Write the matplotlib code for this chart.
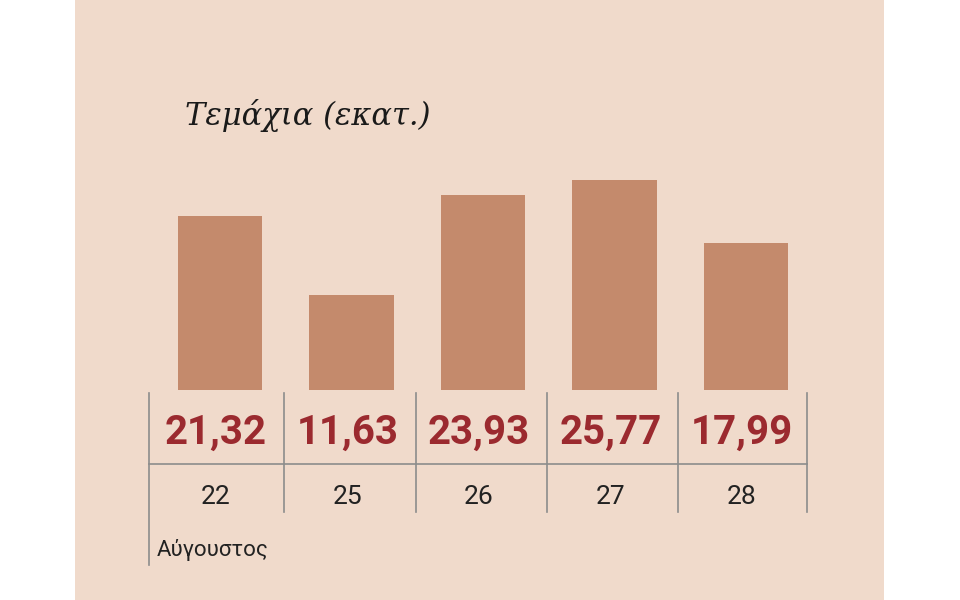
import matplotlib
matplotlib.use("Agg")
import matplotlib.pyplot as plt
import matplotlib.transforms as mt
from matplotlib.patches import Rectangle

days = ["22", "25", "26", "27", "28"]
values = [21.32, 11.63, 23.93, 25.77, 17.99]
labels = ["21,32", "11,63", "23,93", "25,77", "17,99"]
title = "Τεμάχια (εκατ.)"
month = "Αύγουστος"

bg = "#f0dacb"; barc = "#c48a6c"; red = "#9b2a2f"; grid = "#8c8c8c"
W, H = 960, 600
fig = plt.figure(figsize=(9.6, 6), dpi=100)
fig.patch.set_facecolor("white")
bgax = fig.add_axes([0, 0, 1, 1], zorder=-10)
bgax.axis("off")
bgax.add_patch(Rectangle((75/W, 0), (884-75)/W, 1, transform=bgax.transAxes,
                         facecolor=bg, edgecolor="none"))
ax = fig.add_axes([149/W, 1-390/H, 658/W, 240/H], zorder=1)
ax.set_facecolor("none")
x = list(range(len(days)))
ax.bar(x, values, width=0.64, color=barc)
ax.set_xlim(-0.54, 4.464)
ax.set_ylim(0, 240/8.15)
ax.axis("off")

tr = mt.blended_transform_factory(ax.transData, fig.transFigure)
def fy(p): return 1 - p/H
bounds = [-0.54, 0.487, 1.49, 2.49, 3.48, 4.464]
for i, b in enumerate(bounds):
    y0 = fy(565) if i == 0 else fy(512)
    ax.plot([b, b], [fy(393), y0], transform=tr, color=grid, lw=1.2, clip_on=False)
ax.plot([bounds[0], bounds[-1]], [fy(464), fy(464)], transform=tr, color=grid, lw=1.2, clip_on=False)
for xi, lab, d in zip(x, labels, days):
    ax.text(xi - 0.03, fy(433), lab, transform=tr, ha="center", va="center",
            fontsize=29, fontweight="bold", color=red, family="Roboto")
    ax.text(xi - 0.03, fy(497), d, transform=tr, ha="center", va="center",
            fontsize=19, color="#222222", family="Roboto")
fig.text(157/W, fy(550), month, ha="left", va="center", fontsize=16, color="#222222", family="Roboto")
fig.text(185/W, fy(115), title, ha="left", va="center", fontsize=22, style="italic",
         family="DejaVu Serif", color="#1a1a1a")
fig.savefig("out.png", dpi=100)
